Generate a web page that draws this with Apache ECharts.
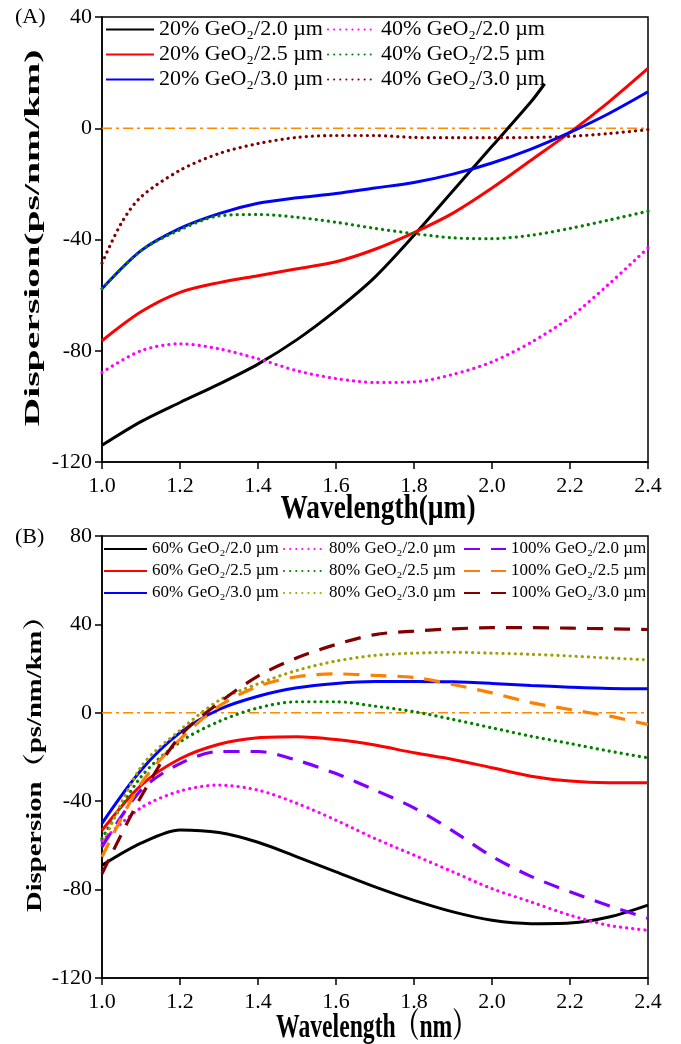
<!DOCTYPE html>
<html><head><meta charset="utf-8">
<script src="https://cdn.jsdelivr.net/npm/echarts@6/dist/echarts.min.js"></script>
<style>html,body{margin:0;padding:0;background:#fff}#c{width:681px;height:1044px}</style>
</head><body><div id="c"></div>
<script>
// ---------- DATA ----------
const xTicks = [1.0, 1.2, 1.4, 1.6, 1.8, 2.0, 2.2, 2.4];
const wl = [1.0, 1.1, 1.2, 1.3, 1.4, 1.5, 1.6, 1.7, 1.8, 1.9, 2.0, 2.1, 2.2, 2.3, 2.4];
const wlA20_20 = [1.0, 1.1, 1.2, 1.3, 1.4, 1.5, 1.6, 1.7, 1.8, 1.9, 2.0, 2.1, 2.135];
const wlA40_30 = [1.0, 1.05, 1.1, 1.2, 1.3, 1.4, 1.5, 1.6, 1.7, 1.8, 1.9, 2.0, 2.1, 2.2, 2.3, 2.4];

// Panel (A)
const namesA = ['20% GeO₂/2.0 µm', '20% GeO₂/2.5 µm', '20% GeO₂/3.0 µm',
                '40% GeO₂/2.0 µm', '40% GeO₂/2.5 µm', '40% GeO₂/3.0 µm'];
const a20_20 = [-114, -105.5, -98.6, -92, -84.8, -76, -65.5, -53.5, -38.5, -22.5, -6.5, 9.5, 16];
const a20_25 = [-76.4, -66, -59, -55.5, -53, -50.5, -48, -43.5, -37.5, -30.5, -21.5, -11.5, -1.5, 9.5, 21.5];
const a20_30 = [-57.7, -44, -36, -30.7, -27, -25, -23.5, -21.5, -19.5, -16.5, -12.5, -7.5, -1.5, 5.3, 13.1];
const a40_20 = [-87.8, -80, -77.5, -79.3, -82.9, -87.2, -90, -91.4, -91.2, -88.5, -84, -77, -68, -56, -43];
const a40_25 = [-57.7, -44, -36.5, -31.5, -31, -32, -33.8, -36, -37.9, -39.4, -39.7, -38.5, -36, -33, -29.8];
const a40_30 = [-48.5, -34, -24.7, -15.1, -9.1, -5.5, -3.3, -2.6, -2.6, -3.3, -3.4, -3.4, -3.3, -2.9, -1.9, -0.5];

// Panel (B)
const namesB = ['60% GeO₂/2.0 µm', '60% GeO₂/2.5 µm', '60% GeO₂/3.0 µm',
                '80% GeO₂/2.0 µm', '80% GeO₂/2.5 µm', '80% GeO₂/3.0 µm',
                '100% GeO₂/2.0 µm', '100% GeO₂/2.5 µm', '100% GeO₂/3.0 µm'];
const b60_20 = [-69, -59, -53, -54.2, -58.6, -65.2, -72, -78.8, -84.9, -90.1, -93.9, -95.4, -95.1, -92.4, -87];
const b60_25 = [-53.2, -32.8, -20.8, -14.2, -11.3, -10.8, -12.1, -14.6, -18.1, -21.1, -24.9, -28.7, -30.9, -31.6, -31.6];
const b60_30 = [-50, -26, -9, 1.5, 7.5, 11.3, 13.3, 14.2, 14.2, 14, 13.3, 12.4, 11.6, 11, 10.9];
const b80_20 = [-58, -43, -35.4, -32.7, -35, -41, -48.6, -56.9, -64.4, -72, -79.6, -85.6, -91.6, -96.2, -98.4];
const b80_25 = [-56.9, -29, -13.2, -3.9, 2.2, 5, 5, 3, 0.5, -3, -6.8, -10.6, -13.9, -17.3, -20.4];
const b80_30 = [-60, -24.5, -7.9, 5.6, 13.1, 19.2, 23.4, 26, 27, 27.4, 27, 26.5, 25.7, 24.8, 24];
const b100_20 = [-60.7, -35, -23, -17.5, -17.5, -21.5, -27.5, -35, -43, -53.5, -65, -74, -81, -87.3, -93];
const b100_25 = [-65.2, -32, -12, 3, 12, 16.3, 17.6, 16.9, 16, 12.8, 9, 4.6, 1.5, -1.5, -5.3];
const b100_30 = [-72.8, -38, -10.5, 4.5, 16.6, 24.9, 30.9, 35.4, 37, 38, 38.5, 38.5, 38.3, 38, 37.7];

const zeroLine = [0, 0];
const zeroX = [1.0, 2.4];

// ---------- STYLE ----------
const SERIF = '"Liberation Serif","Times New Roman","Noto Serif CJK SC","Noto Sans CJK SC",serif';
const DOT = [0.1, 6];
const DASH = [16, 11];
const DASHDOT = [10, 4, 3, 4];

function pairs(xs, ys) { return xs.map((x, i) => [x, ys[i]]); }
function mk(name, xs, ys, color, type, g) {
  return {
    type: 'line', name: name, xAxisIndex: g, yAxisIndex: g,
    data: pairs(xs, ys), smooth: 0.3, symbol: 'none', silent: true,
    lineStyle: { color: color, width: type === 'solid' ? 3 : 3.2, type: type, cap: Array.isArray(type) && type[0] < 1 ? 'round' : 'butt' },
    itemStyle: { color: color }, z: 3
  };
}

const series = [
  { type: 'line', name: 'zeroA', xAxisIndex: 0, yAxisIndex: 0, data: pairs(zeroX, zeroLine), symbol: 'none', silent: true,
    lineStyle: { color: '#FF8C00', width: 1.5, type: DASHDOT }, z: 2 },
  { type: 'line', name: 'zeroB', xAxisIndex: 1, yAxisIndex: 1, data: pairs(zeroX, zeroLine), symbol: 'none', silent: true,
    lineStyle: { color: '#FF8C00', width: 1.5, type: DASHDOT }, z: 2 },
  mk(namesA[0], wlA20_20, a20_20, '#000000', 'solid', 0),
  mk(namesA[1], wl, a20_25, '#FF0000', 'solid', 0),
  mk(namesA[2], wl, a20_30, '#0000FF', 'solid', 0),
  mk(namesA[3], wl, a40_20, '#FF00FF', DOT, 0),
  mk(namesA[4], wl, a40_25, '#008000', DOT, 0),
  mk(namesA[5], wlA40_30, a40_30, '#800000', DOT, 0),
  mk(namesB[0], wl, b60_20, '#000000', 'solid', 1),
  mk(namesB[1], wl, b60_25, '#FF0000', 'solid', 1),
  mk(namesB[2], wl, b60_30, '#0000FF', 'solid', 1),
  mk(namesB[3], wl, b80_20, '#FF00FF', DOT, 1),
  mk(namesB[4], wl, b80_25, '#008000', DOT, 1),
  mk(namesB[5], wl, b80_30, '#A0A000', DOT, 1),
  mk(namesB[6], wl, b100_20, '#8000FF', DASH, 1),
  mk(namesB[7], wl, b100_25, '#FF8000', DASH, 1),
  mk(namesB[8], wl, b100_30, '#800000', DASH, 1)
];

function xAx(g) {
  return {
    gridIndex: g, type: 'value', min: xTicks[0], max: xTicks[xTicks.length - 1], interval: 0.2,
    axisLine: { onZero: false, lineStyle: { color: '#000', width: 1.5 } },
    axisTick: { length: 7, lineStyle: { color: '#000', width: 1.5 } },
    axisLabel: { formatter: v => v.toFixed(1), fontFamily: SERIF, fontSize: 22, color: '#000', margin: 13, showMinLabel: true, showMaxLabel: true },
    splitLine: { show: false }
  };
}
function yAx(g, mn, mx) {
  return {
    gridIndex: g, type: 'value', min: mn, max: mx, interval: 40,
    axisLine: { onZero: false, lineStyle: { color: '#000', width: 1.5 } },
    axisTick: { length: 7, lineStyle: { color: '#000', width: 1.5 } },
    axisLabel: { fontFamily: SERIF, fontSize: 22, color: '#000', margin: 10, showMinLabel: true, showMaxLabel: true },
    splitLine: { show: false }
  };
}
function leg(names, left, top, iw, fs, lh) {
  return {
    left: left, top: top, orient: 'vertical', selectedMode: false, data: names,
    itemWidth: iw, itemHeight: 10, itemGap: 0, padding: 0,
    itemStyle: { color: 'transparent', borderColor: 'transparent', borderWidth: 0 },
    textStyle: { fontFamily: SERIF, fontSize: fs, lineHeight: lh, color: '#000' }
  };
}

// measure text widths to stretch titles like the reference
const cv = document.createElement('canvas').getContext('2d');
function wOf(txt, font) { cv.font = font; return cv.measureText(txt).width; }
function title(txt, cx, cy, size, len, vertical, thickScale) {
  const font = 'bold ' + size + 'px ' + SERIF;
  const s = len / wOf(txt, font);
  return {
    type: 'text', x: cx, y: cy, rotation: vertical ? Math.PI / 2 : 0,
    scaleX: s, scaleY: thickScale,
    style: { text: txt, font: font, fill: '#000', align: 'center', verticalAlign: 'middle' }, z: 10
  };
}

const option = {
  animation: false,
  backgroundColor: '#fff',
  grid: [
    { left: 102, top: 17, width: 546, height: 445, show: true, borderColor: '#000', borderWidth: 1.5 },
    { left: 102, top: 536, width: 546, height: 442, show: true, borderColor: '#000', borderWidth: 1.5 }
  ],
  xAxis: [xAx(0), xAx(1)],
  yAxis: [yAx(0, -120, 40), yAx(1, -120, 80)],
  legend: [
    leg(namesA.slice(0, 3), 105, 17, 48, 22, 25),
    leg(namesA.slice(3, 6), 327, 17, 48, 22, 25),
    leg(namesB.slice(0, 3), 103, 538, 43, 17, 22),
    leg(namesB.slice(3, 6), 283, 538, 40, 17, 22),
    leg(namesB.slice(6, 9), 463, 538, 42, 17, 22)
  ],
  graphic: [
    { type: 'text', x: 15, y: 17, style: { text: '(A)', font: '22px ' + SERIF, fill: '#000', verticalAlign: 'middle' } },
    { type: 'text', x: 15, y: 537, style: { text: '(B)', font: '22px ' + SERIF, fill: '#000', verticalAlign: 'middle' } },
    title('Wavelength(µm)', 378, 509, 26, 195, false, 1.3),
    title('Wavelength（nm）', 376, 1028, 26, 200, false, 1.3),
    title('Dispersion(ps/nm/km)', 33, 238, 22, 377, true, 1),
    title('Dispersion（ps/nm/km）', 35, 757, 22, 310, true, 1)
  ],
  series: series
};
echarts.init(document.getElementById('c')).setOption(option);
</script>
</body></html>
